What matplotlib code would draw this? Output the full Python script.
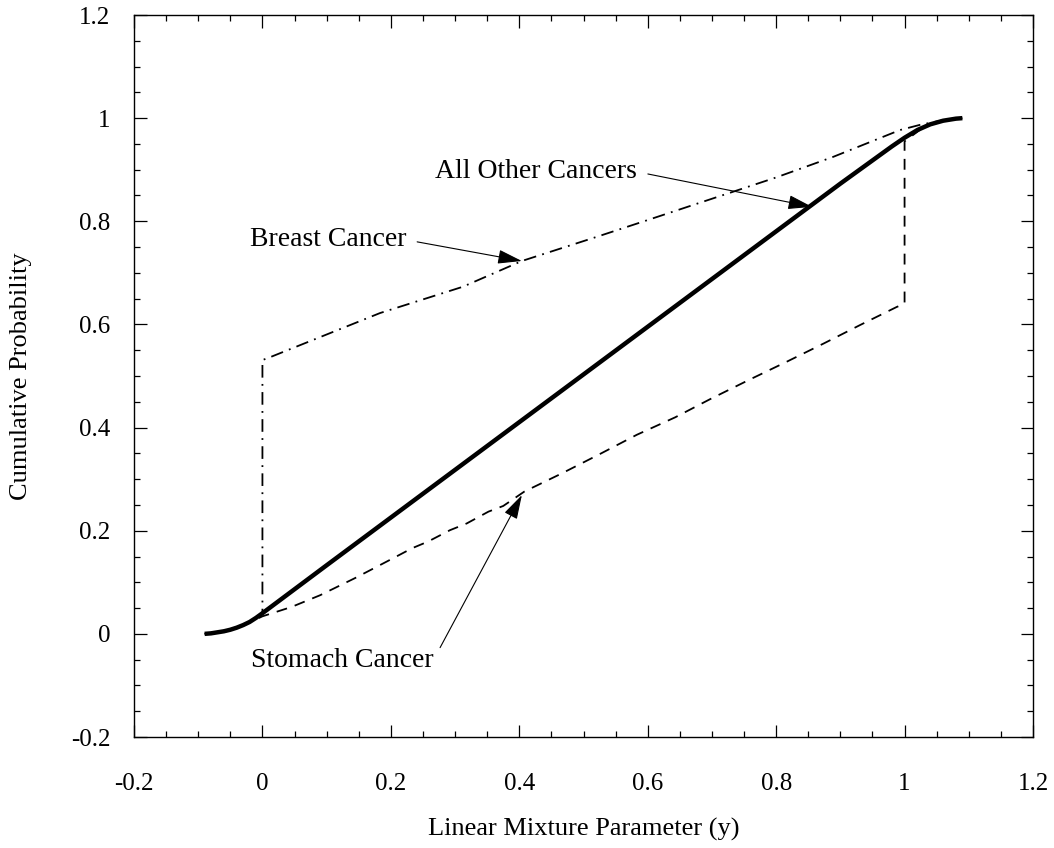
import matplotlib
matplotlib.use("Agg")
import matplotlib.pyplot as plt
from matplotlib.ticker import MultipleLocator, FixedLocator, FixedFormatter

plt.rcParams['font.family'] = ['Liberation Serif', 'DejaVu Serif']
plt.rcParams['axes.unicode_minus'] = False

# curves
other_x = [-0.09, -0.08, -0.07, -0.06, -0.05, -0.04, -0.03, -0.02, -0.01, 0.0, 0.1, 0.3, 0.5,
           0.7, 0.9, 0.95, 0.98, 1.0, 1.02, 1.04, 1.06, 1.08, 1.09]
other_y = [0.0, 0.001, 0.003, 0.005, 0.008, 0.012, 0.017, 0.023, 0.031, 0.04, 0.133, 0.318, 0.503,
           0.688, 0.873, 0.918, 0.945, 0.962, 0.977, 0.988, 0.995, 0.999, 1.0]

stomach_x = [-0.09, -0.05, -0.02, 0.0, 0.045, 0.09, 0.144, 0.201, 0.233, 0.258, 0.292, 0.318,
             0.352, 0.375, 0.408, 0.466, 0.526, 0.583, 0.643, 0.697, 0.757, 0.817, 0.874,
             0.931, 0.988, 1.0, 1.0, 1.03, 1.06, 1.09]
stomach_y = [0.0, 0.008, 0.022, 0.034, 0.052, 0.075, 0.108, 0.145, 0.166, 0.179, 0.201, 0.214,
             0.237, 0.248, 0.276, 0.311, 0.349, 0.386, 0.42, 0.455, 0.492, 0.528, 0.563,
             0.599, 0.634, 0.64, 0.955, 0.983, 0.995, 1.0]

breast_x = [-0.09, -0.05, -0.02, 0.0, 0.0, 0.009, 0.079, 0.183, 0.312, 0.404, 0.521, 0.599,
            0.708, 0.8, 0.889, 0.993, 1.024, 1.06, 1.09]
breast_y = [0.0, 0.008, 0.023, 0.04, 0.531, 0.535, 0.57, 0.622, 0.673, 0.723, 0.77, 0.802,
            0.847, 0.885, 0.925, 0.977, 0.987, 0.996, 1.0]

major_ticks = [-0.2, 0, 0.2, 0.4, 0.6, 0.8, 1, 1.2]
tick_labels = ['-0.2', '0', '0.2', '0.4', '0.6', '0.8', '1', '1.2']

fig = plt.figure(figsize=(10.54, 8.48), dpi=100)
ax = fig.add_axes([134 / 1054, 1 - 737 / 848, 899 / 1054, 722 / 848])

ax.plot(other_x, other_y, color='black', lw=3.2, solid_capstyle='butt', zorder=3)
ax.plot(stomach_x, stomach_y, color='black', lw=1.3, dashes=(6, 4.5), zorder=2)
ax.plot(breast_x, breast_y, color='black', lw=1.3, dashes=(7, 3.5, 1, 3.5), zorder=2)

def arrow(rel):
    return dict(arrowstyle='-|>,head_length=0.75,head_width=0.22', color='black', lw=0.8,
                shrinkA=6, shrinkB=0, relpos=rel)

ax.annotate('All Other Cancers', xy=(0.856, 0.828), xytext=(0.426, 0.896),
            ha='center', va='center', fontsize=20, arrowprops=arrow((1.0, 0.5)))
ax.annotate('Breast Cancer', xy=(0.404, 0.723), xytext=(0.102, 0.764),
            ha='center', va='center', fontsize=20, arrowprops=arrow((1.0, 0.5)))
ax.annotate('Stomach Cancer', xy=(0.404, 0.269), xytext=(0.124, -0.051),
            ha='center', va='center', fontsize=20, arrowprops=arrow((1.0, 0.5)))

ax.set_xlim(-0.2, 1.2)
ax.set_ylim(-0.2, 1.2)
for axis in (ax.xaxis, ax.yaxis):
    axis.set_major_locator(FixedLocator(major_ticks))
    axis.set_major_formatter(FixedFormatter(tick_labels))
    axis.set_minor_locator(MultipleLocator(0.05))

ax.tick_params(which='both', direction='in', top=True, right=True, width=0.9, color='black')
ax.tick_params(which='major', length=9)
ax.tick_params(which='minor', length=4.5)
ax.tick_params(axis='x', which='major', pad=26, labelsize=18)
ax.tick_params(axis='y', which='major', pad=17, labelsize=18)
for s in ax.spines.values():
    s.set_linewidth(1.0)

ax.set_xlabel('Linear Mixture Parameter (y)', fontsize=19)
ax.set_ylabel('Cumulative Probability', fontsize=19)
ax.xaxis.set_label_coords(0.5, -0.112)
ax.yaxis.set_label_coords(-0.113, 0.5)

fig.savefig('out.png', dpi=100)
